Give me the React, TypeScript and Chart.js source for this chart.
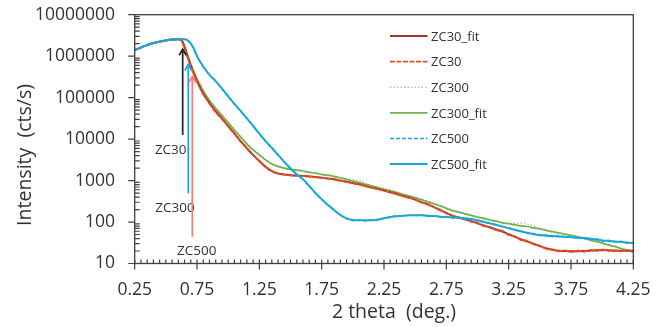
import React, { useEffect, useRef } from "react";
import { Chart, registerables } from "chart.js";

Chart.register(...registerables);

// ---------- data ----------
const xValues = [
  0.25, 0.3, 0.35, 0.4, 0.45, 0.5, 0.55, 0.6,
  0.625, 0.65, 0.675, 0.7, 0.725,
  0.75, 0.8, 0.85, 0.9, 0.95, 1.0, 1.05, 1.1, 1.15, 1.2,
  1.25, 1.3, 1.35, 1.4, 1.45, 1.5, 1.55, 1.6, 1.65, 1.7,
  1.75, 1.8, 1.85, 1.9, 1.95, 2.0, 2.05, 2.1, 2.15, 2.2,
  2.25, 2.3, 2.35, 2.4, 2.45, 2.5, 2.55, 2.6, 2.65, 2.7,
  2.75, 2.8, 2.85, 2.9, 2.95, 3.0, 3.05, 3.1, 3.15, 3.2,
  3.25, 3.3, 3.35, 3.4, 3.45, 3.5, 3.55, 3.6, 3.65, 3.7,
  3.75, 3.8, 3.85, 3.9, 3.95, 4.0, 4.05, 4.1, 4.15, 4.2,
  4.25,
];

const zc30Fit = [
  1410000, 1620000, 1860000, 2070000, 2240000, 2400000, 2510000, 2570000,
  2400000, 1660000, 955000, 589000, 372000,
  251000, 126000, 74100, 46800, 31600, 20900, 13800, 8910, 6030, 4170,
  2950, 2140, 1700, 1480, 1400, 1350, 1320, 1290, 1260, 1220,
  1170, 1120, 1070, 1000, 933, 871, 813, 741, 676, 631,
  575, 525, 479, 427, 389, 347, 302, 269, 229, 195,
  166, 141, 129, 117, 105, 93, 83, 74, 66, 59,
  51, 44, 38, 34, 30, 26.3, 23.4, 21.4, 20.4, 20.0,
  19.7, 19.7, 20.0, 20.4, 20.9, 20.9, 20.9, 20.4, 20.4, 20.4,
  20.4,
];

const zc30Data = [
  1400000, 1630000, 1850000, 2080000, 2230000, 2410000, 2500000, 2560000,
  2380000, 1600000, 930000, 560000, 355000,
  240000, 118000, 70500, 44000, 30200, 19800, 13300, 8600, 5900, 4100,
  2920, 2120, 1690, 1470, 1390, 1340, 1310, 1280, 1255, 1215,
  1165, 1110, 1060, 995, 925, 865, 805, 735, 670, 625,
  570, 520, 470, 420, 384, 352, 295, 274, 224, 200,
  160, 146, 124, 121, 101, 97, 79, 77, 63, 62,
  48, 46, 36, 35.5, 28.5, 27.5, 22, 22.5, 19.2, 21.2,
  18.5, 20.8, 18.9, 21.5, 19.8, 22.0, 19.9, 21.4, 19.5, 21.3,
  20.0,
];

const zc300Fit = [
  1410000, 1620000, 1860000, 2070000, 2240000, 2400000, 2510000, 2570000,
  2450000, 1780000, 1050000, 646000, 417000,
  282000, 145000, 85100, 55000, 37200, 25100, 16600, 11200, 7590, 5500,
  4170, 3160, 2510, 2190, 2000, 1860, 1780, 1700, 1580, 1510,
  1410, 1350, 1260, 1170, 1070, 977, 891, 813, 741, 676,
  617, 562, 513, 468, 427, 389, 347, 309, 275, 245,
  214, 186, 174, 158, 145, 132, 123, 112, 105, 95,
  91, 85, 81, 78, 72, 68, 63, 59, 55, 51,
  48, 44, 41, 37, 34, 31, 28, 26, 23, 21,
  19.5,
];

const zc300Data = [
  1420000, 1610000, 1870000, 2060000, 2250000, 2390000, 2520000, 2570000,
  2440000, 1760000, 1030000, 640000, 410000,
  280000, 146000, 86000, 55500, 37800, 25500, 17000, 11500, 7800, 5600,
  4250, 3200, 2560, 2170, 1980, 1840, 1760, 1690, 1600, 1530,
  1420, 1340, 1250, 1150, 1080, 1060, 1020, 870, 735, 665,
  640, 610, 540, 450, 395, 372, 350, 318, 282, 250,
  222, 196, 178, 160, 148, 130, 120, 110, 103, 96,
  93, 92, 95, 90, 80, 70, 62, 57, 54, 52,
  47, 45, 40, 38, 33, 32, 27, 26.5, 22.5, 21.5,
  18,
];

const zc500Fit = [
  1410000, 1620000, 1860000, 2070000, 2240000, 2400000, 2510000, 2570000,
  2570000, 2570000, 2400000, 2040000, 1510000,
  1000000, 562000, 355000, 251000, 166000, 107000, 70800, 47900, 31600, 20900,
  13500, 8910, 6170, 4170, 2820, 1950, 1410, 1070, 741, 501,
  355, 257, 195, 148, 123, 112, 110, 110, 110, 115,
  123, 132, 138, 141, 145, 145, 145, 141, 140, 135,
  132, 129, 126, 123, 117, 110, 100, 93, 85, 78,
  71, 65, 59, 55, 51, 49, 47, 46, 45, 44,
  43, 42, 41, 40, 38, 36, 35, 34, 33, 32,
  31,
];

const zc500Data = [
  1400000, 1620000, 1870000, 2070000, 2240000, 2410000, 2500000, 2570000,
  2560000, 2550000, 2380000, 2000000, 1480000,
  980000, 540000, 345000, 245000, 162000, 105000, 69500, 47000, 31000, 20600,
  13300, 8800, 6100, 4120, 2790, 1930, 1400, 1060, 735, 495,
  350, 255, 193, 146, 120, 108, 112, 106, 113, 111,
  127, 129, 142, 137, 149, 141, 150, 137, 144, 131,
  136, 125, 130, 119, 121, 106, 104, 90, 88, 75,
  74, 63, 61, 53, 53, 47, 49, 44, 47, 42.5,
  45, 40.5, 43, 38.5, 40, 35, 36.5, 33, 34.5, 31,
  32,
];

const xTickValues = [0.25, 0.75, 1.25, 1.75, 2.25, 2.75, 3.25, 3.75, 4.25];
const yTickValues = [10, 100, 1000, 10000, 100000, 1000000, 10000000];

const arrowLabels = ["ZC30", "ZC300", "ZC500"];
const arrowX = [0.635, 0.68, 0.712];
const arrowTop = [1470000, 630000, 320000];
const arrowBottom = [12600, 493, 44];
const arrowLabelX = [0.539, 0.573, 0.747];
const arrowLabelY = [5690, 227, 21.2];

// ---------- styles ----------
const FONT = "'Open Sans', sans-serif";
const TEXT = "#333333";
const AXIS = "#404040";
const arrowColors = ["#222222", "#1aa0dc", "#f37c7c"];

const pts = (ys: number[]) => xValues.map((x, i) => ({ x, y: ys[i] }));

const decorPlugin = {
  id: "decor",
  afterDatasetsDraw(chart: any) {
    const { ctx, chartArea, scales } = chart;
    const xs = scales.x;
    const ys = scales.y;
    const { left, right, top, bottom } = chartArea;
    ctx.save();

    // frame
    ctx.strokeStyle = AXIS;
    ctx.lineWidth = 1.3;
    ctx.strokeRect(left, top, right - left, bottom - top);

    // x ticks
    ctx.lineWidth = 1.2;
    ctx.beginPath();
    for (let k = 0; k <= 80; k++) {
      const v = 0.25 + k * 0.05;
      const px = xs.getPixelForValue(v);
      ctx.moveTo(px, bottom - 4);
      ctx.lineTo(px, bottom);
    }
    xTickValues.forEach((v) => {
      const px = xs.getPixelForValue(v);
      ctx.moveTo(px, bottom - 4);
      ctx.lineTo(px, bottom + 6);
    });
    // y ticks
    yTickValues.forEach((v) => {
      const py = ys.getPixelForValue(v);
      ctx.moveTo(left - 6.5, py);
      ctx.lineTo(left, py);
    });
    for (let d = 0; d < yTickValues.length - 1; d++) {
      for (let m = 2; m <= 9; m++) {
        const py = ys.getPixelForValue(yTickValues[d] * m);
        ctx.moveTo(left, py);
        ctx.lineTo(left + 5, py);
      }
    }
    ctx.stroke();

    // arrows
    arrowLabels.forEach((lab, i) => {
      const px = xs.getPixelForValue(arrowX[i]);
      const pt = ys.getPixelForValue(arrowTop[i]);
      const pb = ys.getPixelForValue(arrowBottom[i]);
      ctx.strokeStyle = arrowColors[i];
      ctx.lineWidth = 1.7;
      ctx.beginPath();
      ctx.moveTo(px, pb);
      ctx.lineTo(px, pt);
      ctx.stroke();
      ctx.beginPath();
      ctx.moveTo(px - 3.5, pt + 6);
      ctx.lineTo(px, pt);
      ctx.lineTo(px + 3.5, pt + 6);
      ctx.stroke();
      ctx.fillStyle = TEXT;
      ctx.font = `13.5px ${FONT}`;
      ctx.textAlign = "center";
      ctx.textBaseline = "middle";
      ctx.fillText(
        lab,
        xs.getPixelForValue(arrowLabelX[i]),
        ys.getPixelForValue(arrowLabelY[i]) + 1
      );
    });

    // legend
    const lx = left + 255.3;
    const ly = top + 21.3;
    chart.data.datasets.forEach((ds: any, i: number) => {
      const y = ly + i * 25.6;
      ctx.strokeStyle = ds.borderColor;
      ctx.lineWidth = ds.borderWidth;
      ctx.setLineDash(ds.borderDash || []);
      ctx.beginPath();
      ctx.moveTo(lx, y);
      ctx.lineTo(lx + 37.5, y);
      ctx.stroke();
      ctx.setLineDash([]);
      ctx.fillStyle = TEXT;
      ctx.font = `13px ${FONT}`;
      ctx.textAlign = "left";
      ctx.textBaseline = "middle";
      ctx.fillText(ds.label, lx + 41, y + 1);
    });

    // axis titles
    ctx.fillStyle = TEXT;
    ctx.font = `19.5px ${FONT}`;
    ctx.textAlign = "center";
    ctx.textBaseline = "middle";
    ctx.fillText("2 theta  (deg.)", 394, 312);
    ctx.save();
    ctx.translate(25, 155);
    ctx.rotate(-Math.PI / 2);
    ctx.fillText("Intensity  (cts/s)", 0, 0);
    ctx.restore();

    ctx.restore();
  },
};

const zeroPad = (s: any) => {
  s.paddingTop = 0;
  s.paddingBottom = 0;
  s.paddingLeft = 0;
  s.paddingRight = 0;
};

export default function App() {
  const ref = useRef<HTMLCanvasElement>(null);

  useEffect(() => {
    if (!ref.current) return;
    const chart = new Chart(ref.current, {
      type: "line",
      data: {
        datasets: [
          {
            label: "ZC30_fit",
            data: pts(zc30Fit),
            borderColor: "#a3362f",
            borderWidth: 2,
            cubicInterpolationMode: "monotone",
            order: 3,
          },
          {
            label: "ZC30",
            data: pts(zc30Data),
            borderColor: "#ee4d22",
            borderWidth: 1.75,
            borderDash: [5, 1.5],
            order: 2,
          },
          {
            label: "ZC300",
            data: pts(zc300Data),
            borderColor: "#a9d18e",
            borderWidth: 1.5,
            borderDash: [1.5, 2],
            order: 5,
          },
          {
            label: "ZC300_fit",
            data: pts(zc300Fit),
            borderColor: "#70b34c",
            borderWidth: 1.75,
            cubicInterpolationMode: "monotone",
            order: 4,
          },
          {
            label: "ZC500",
            data: pts(zc500Data),
            borderColor: "#2a9fe0",
            borderWidth: 1.5,
            borderDash: [4, 2],
            order: 1,
          },
          {
            label: "ZC500_fit",
            data: pts(zc500Fit),
            borderColor: "#17a8da",
            borderWidth: 2,
            cubicInterpolationMode: "monotone",
            order: 0,
          },
        ] as any,
      },
      options: {
        responsive: false,
        animation: false,
        devicePixelRatio: 1,
        layout: { padding: { left: 0, top: 14.7, right: 29.7, bottom: 0 } },
        elements: { point: { radius: 0, hoverRadius: 0 } },
        plugins: { legend: { display: false }, tooltip: { enabled: false } },
        scales: {
          x: {
            type: "linear",
            min: 0.25,
            max: 4.25,
            grid: { display: false, drawTicks: false },
            border: { display: false },
            afterBuildTicks: (s: any) => {
              s.ticks = xTickValues.map((v) => ({ value: v }));
            },
            afterFit: (s: any) => {
              s.height = 63.5;
              zeroPad(s);
            },
            ticks: {
              autoSkip: false,
              maxRotation: 0,
              padding: 16,
              color: TEXT,
              font: { family: FONT, size: 17.5 },
              callback: (v: any) => Number(v).toFixed(2),
            },
          },
          y: {
            type: "logarithmic",
            min: 10,
            max: 10000000,
            grid: { display: false, drawTicks: false },
            border: { display: false },
            afterBuildTicks: (s: any) => {
              s.ticks = yTickValues.map((v) => ({ value: v }));
            },
            afterFit: (s: any) => {
              s.width = 134.7;
              zeroPad(s);
            },
            ticks: {
              autoSkip: false,
              padding: 19.7,
              color: TEXT,
              font: { family: FONT, size: 17.5 },
              callback: (v: any) => String(v),
            },
          },
        },
      } as any,
      plugins: [decorPlugin],
    });
    return () => chart.destroy();
  }, []);

  return (
    <div
      style={{
        position: "fixed",
        left: 0,
        top: 0,
        width: 663,
        height: 327,
        background: "#ffffff",
      }}
    >
      <canvas
        ref={ref}
        width={663}
        height={327}
        style={{ display: "block", width: 663, height: 327 }}
      />
    </div>
  );
}
